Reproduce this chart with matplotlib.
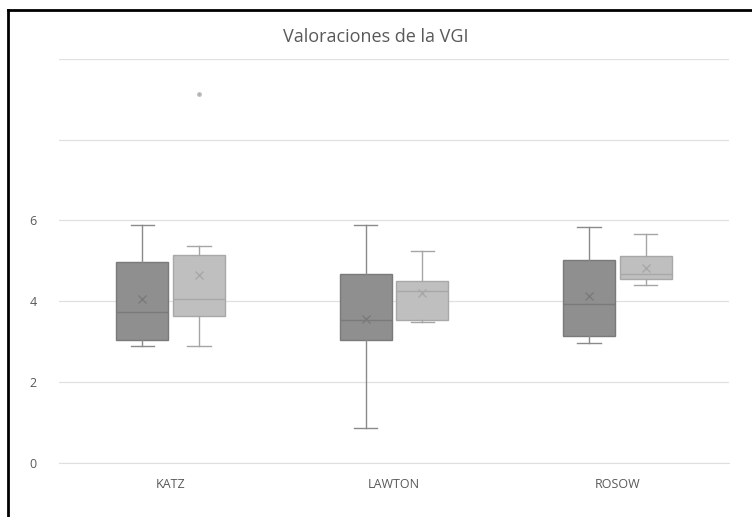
import matplotlib
matplotlib.use("Agg")
import matplotlib.pyplot as plt
from matplotlib.lines import Line2D

categories = ["KATZ", "LAWTON", "ROSOW"]

# series 1 (dark) statistics per category
s1_whislo = [2.89, 0.87, 2.97]
s1_q1 = [3.03, 3.03, 3.14]
s1_med = [3.73, 3.54, 3.93]
s1_q3 = [4.96, 4.68, 5.03]
s1_whishi = [5.89, 5.89, 5.85]
s1_mean = [4.06, 3.56, 4.12]
s1_fliers = [[], [], []]

# series 2 (light) statistics per category
s2_whislo = [2.89, 3.49, 4.41]
s2_q1 = [3.64, 3.54, 4.55]
s2_med = [4.06, 4.26, 4.68]
s2_q3 = [5.14, 4.50, 5.12]
s2_whishi = [5.36, 5.24, 5.66]
s2_mean = [4.66, 4.21, 4.83]
s2_fliers = [[9.14], [], []]

y_ticks = [0, 2, 4, 6, 8, 10]
y_ticklabels = ["0", "2", "4", "6", "", ""]

plt.rcParams['font.family'] = ['Open Sans', 'DejaVu Sans']

fig = plt.figure(figsize=(7.52, 5.17), dpi=100)
ax = fig.add_axes([59/752, 1-462.7/517, (729-59)/752, (462.7-59)/517])

def stats(wl, q1, med, q3, wh, mean, fl):
    out = []
    for i in range(len(wl)):
        out.append(dict(whislo=wl[i], q1=q1[i], med=med[i], q3=q3[i],
                        whishi=wh[i], mean=mean[i], fliers=fl[i]))
    return out

off = 0.127
width = 0.233
series = [
    (stats(s1_whislo, s1_q1, s1_med, s1_q3, s1_whishi, s1_mean, s1_fliers), -off, "#8f8f8f", "#7a7a7a", "#8a8a8a"),
    (stats(s2_whislo, s2_q1, s2_med, s2_q3, s2_whishi, s2_mean, s2_fliers), off, "#bfbfbf", "#a8a8a8", "#a5a5a5"),
]
for st, o, fc, ec, wc in series:
    pos = [i + o for i in range(len(categories))]
    ax.bxp(st, positions=pos, widths=width, patch_artist=True, showmeans=True,
           boxprops=dict(facecolor=fc, edgecolor=ec, linewidth=1.0),
           medianprops=dict(color=ec, linewidth=1.0),
           whiskerprops=dict(color=wc, linewidth=1.0),
           capprops=dict(color=wc, linewidth=1.0),
           capwidths=width * 0.45,
           meanprops=dict(marker='x', markeredgecolor=ec, markersize=6, markeredgewidth=1.0),
           flierprops=dict(marker='o', markerfacecolor='#a8a8a8', markeredgecolor='#c0c0c0', markersize=2.5),
           zorder=3)

ax.set_xlim(-0.5, len(categories) - 0.5)
ax.set_ylim(0, 10)
ax.set_xticks(range(len(categories)))
ax.set_xticklabels(categories, fontsize=9, color="#595959")
ax.set_yticks(y_ticks)
ax.set_yticklabels(y_ticklabels, fontsize=9, color="#595959")
ax.tick_params(axis='both', length=0)
ax.tick_params(axis='x', pad=11)
ax.tick_params(axis='y', pad=16)
ax.yaxis.grid(True, color="#e0e0e0", linewidth=0.9, zorder=0)
ax.set_axisbelow(True)
for s in ["left", "right", "top"]:
    ax.spines[s].set_visible(False)
ax.spines["bottom"].set_color("#e0e0e0")

fig.text(376/752, 1 - 37/517, "Valoraciones de la VGI", ha='center', va='center',
         fontsize=13, color="#595959")

# screenshot frame lines (top and left)
fig.add_artist(Line2D([8/752, 1], [1-10/517, 1-10/517], color='black', linewidth=2, transform=fig.transFigure))
fig.add_artist(Line2D([8/752, 8/752], [0, 1-10/517], color='black', linewidth=2, transform=fig.transFigure))

fig.savefig("out.png", dpi=100)
